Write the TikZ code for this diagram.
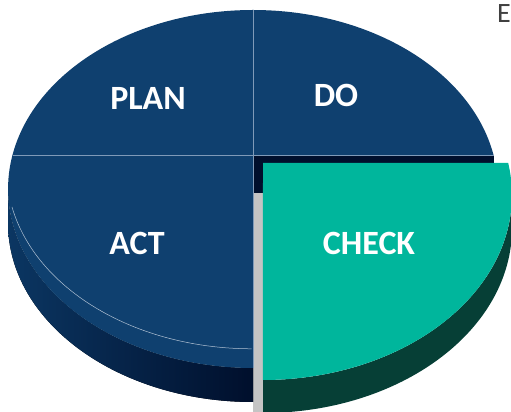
\documentclass[tikz,border=0pt]{standalone}
\usepackage{fontspec}
\setmainfont{Carlito}
\definecolor{navy}{HTML}{0F406F}
\definecolor{navydark}{HTML}{000F2C}
\definecolor{navyside}{HTML}{0B3662}
\definecolor{teal}{HTML}{00B69C}
\definecolor{tealside}{HTML}{063F36}
\definecolor{divline}{HTML}{7F9AB8}

\begin{document}
\begin{tikzpicture}[x=1pt, y=1pt,
        label/.style = {text=white, font=\fontsize{34}{38}\selectfont\bfseries, anchor=base, inner sep=0pt},
        pie/.style = {x radius=245pt, y radius=179pt},
        piecheck/.style = {x radius=249pt, y radius=185pt}]
        \useasboundingbox (0,0) rectangle (511,412);
        \clip (0,0) rectangle (511,412);

        % points of the main pie
        \coordinate (P) at (253,257);
        \coordinate (L) at (12.5,257);
        \coordinate (R) at (493.5,257);
        \coordinate (T) at (253,402);
        \coordinate (B) at (253,44);
        \coordinate (Q) at (263,249);

        % walls left open by the CHECK slice
        \fill[navydark] (253,219) rectangle (493.5,257);
        \fill[black!23] (253,0) rectangle (263,219);

        % side and top of the main pie
        \fill[left color=navyside, right color=navydark] (8,223) -- (8,189) arc[start angle=180, end angle=270, pie] -- (B) arc[start angle=270, end angle=180, pie] -- cycle;
        \fill[navy] (P) -- (L) arc[start angle=169.05, end angle=90, pie] -- cycle;
        \fill[navy] (P) -- (T) arc[start angle=90, end angle=10.95, pie] -- cycle;
        \fill[navy] (P) -- (L) arc[start angle=169.05, end angle=270, pie] -- cycle;
        \draw[divline!60!white, line width=0.5pt] (12,205) arc[start angle=192, end angle=270, pie];
        \draw[divline, line width=0.6pt] (L) -- (R);
        \draw[divline, line width=0.6pt] (T) -- (B);

        % CHECK slice
        \fill[tealside] (512,217) -- (512,184) arc[start angle=0, end angle=-90, piecheck] -- (263,32) arc[start angle=-90, end angle=0, piecheck] -- cycle;
        \fill[teal] (Q) -- (508.2,249) arc[start angle=9.96, end angle=-90, piecheck] -- cycle;

        \node[label] (plan) at (148,302) {PLAN};
        \node[label] (do) at (336,305) {DO};
        \node[label] (act) at (137,157) {ACT};
        \node[label] (check) at (369,157) {CHECK};
        \node[anchor=base west, inner sep=0pt, text=black!75, font=\fontsize{28}{32}\selectfont] (edge) at (497,389) {E};
    \end{tikzpicture}
\end{document}
